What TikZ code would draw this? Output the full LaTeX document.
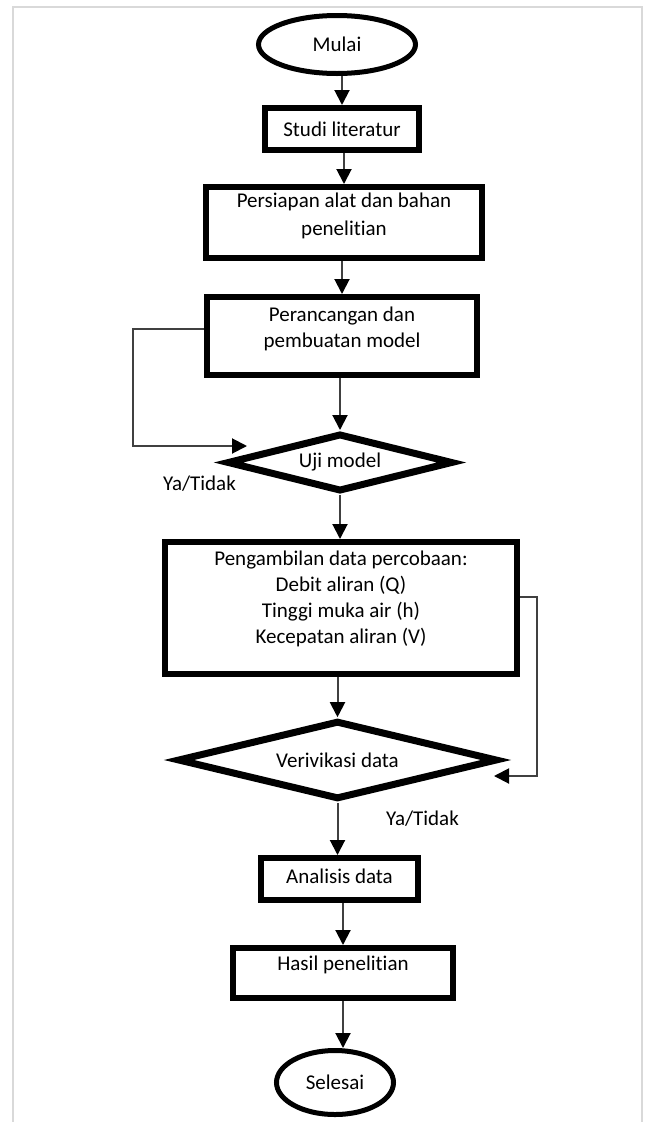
\documentclass[tikz,border=0pt]{standalone}
\usepackage{fontspec}
\setmainfont{Carlito}[Ligatures=NoCommon]
\usetikzlibrary{shapes.geometric,arrows.meta}
\definecolor{framegray}{HTML}{D9D9D9}
\definecolor{linegray}{HTML}{404040}
\begin{document}
\begin{tikzpicture}[x=1pt,y=-1pt,
  every node/.style={font=\fontsize{21}{26}\selectfont},
  term/.style={ellipse,draw=black,line width=5pt,inner sep=0pt},
  proc/.style={rectangle,draw=black,line width=6pt,inner sep=0pt},
  decis/.style={diamond,draw=black,line width=7pt,inner sep=0pt,aspect=4},
  txt/.style={align=center,inner sep=0pt},
  tip/.style={-{Triangle[length=15pt,width=15pt,black]}},
  arr/.style={draw=linegray,line width=2pt,tip},
  fb/.style={draw=linegray,line width=2pt},
  lbl/.style={inner sep=0pt}]
\useasboundingbox (0,0) rectangle (647,1122);
\fill[white] (0,0) rectangle (647,1122);
\draw[framegray,line width=2pt] (13,1122) -- (13,7) -- (642,7) -- (642,1122);

\node[term,minimum width=157pt,minimum height=58pt] (mulai) at (337,44.5) {Mulai};
\node[proc,minimum width=154pt,minimum height=42pt] (studi) at (342,129) {Studi literatur};
\node[proc,minimum width=276pt,minimum height=71pt] (persiapan) at (344,222.5) {};
\node[txt] (persiapanT) at (344,216) {Persiapan alat dan bahan\\[2pt]penelitian};
\node[proc,minimum width=270pt,minimum height=78pt] (perancangan) at (342,336) {};
\node[txt] (perancanganT) at (342,329) {Perancangan dan\\pembuatan model};
\node[decis,minimum width=226pt,minimum height=58pt] (uji) at (340,462.5) {Uji model};
\node[proc,minimum width=352pt,minimum height=132pt] (peng) at (341,608) {};
\node[txt] (pengT) at (341,598.5) {Pengambilan data percobaan:\\Debit aliran (Q)\\Tinggi muka air (h)\\Kecepatan aliran (V)};
\node[decis,minimum width=320pt,minimum height=78.6pt] (veri) at (337.5,760) {Verivikasi data};
\node[proc,minimum width=157pt,minimum height=42pt] (analisis) at (339.5,879) {};
\node[txt] (analisisT) at (339.5,876) {Analisis data};
\node[proc,minimum width=220pt,minimum height=50pt] (hasil) at (343,973) {};
\node[txt] (hasilT) at (343,965) {Hasil penelitian};
\node[term,minimum width=117pt,minimum height=64pt] (selesai) at (335,1082.5) {Selesai};
\node[lbl] (ya1) at (199.5,484) {Ya/Tidak};
\node[lbl] (ya2) at (422.5,819) {Ya/Tidak};

\draw[arr] (studi.north |- mulai.south) -- (studi.north);
\draw[arr] (persiapan.north |- studi.south) -- (persiapan.north);
\draw[arr] (perancangan.north |- persiapan.south) -- (perancangan.north);
\draw[arr] (uji.north |- perancangan.south) -- (uji.north);
\draw[arr] (uji.south) -- (uji.south |- peng.north);
\draw[arr] (veri.north |- peng.south) -- (veri.north);
\draw[arr] (veri.south) -- (veri.south |- analisis.north);
\draw[arr] (hasil.north |- analisis.south) -- (hasil.north);
\draw[arr] (hasil.south) -- (hasil.south |- selesai.north);

\coordinate (fbL) at (133,446);
\coordinate (fbLend) at (247,446);
\draw[fb,tip] ([yshift=7pt]perancangan.west) -| (fbL) -- (fbLend);
\coordinate (fbR) at (537,776);
\coordinate (fbRend) at (494,776);
\draw[fb,tip] ([yshift=11pt]peng.east) -| (fbR) -- (fbRend);
\end{tikzpicture}
\end{document}
